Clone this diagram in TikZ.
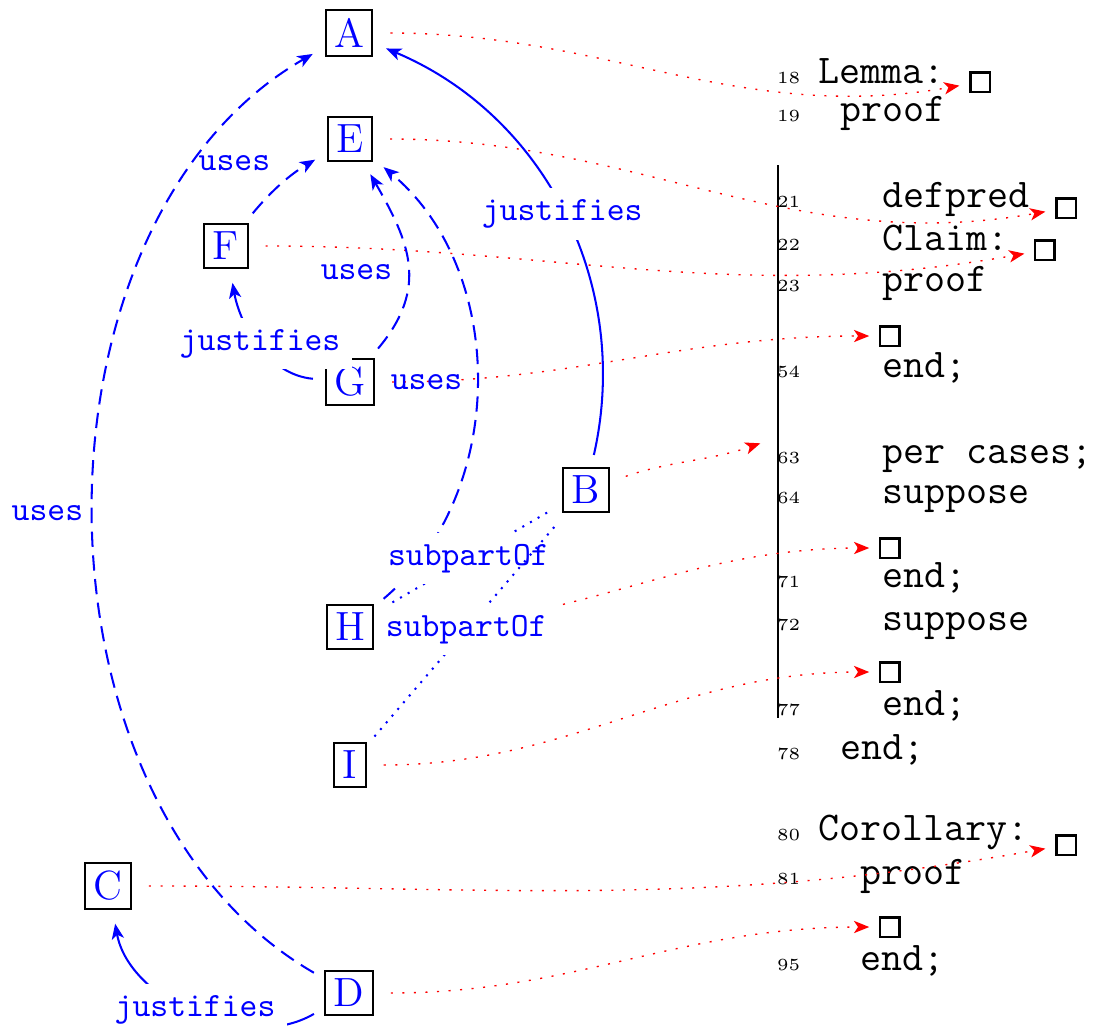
\documentclass[tikz,border=0pt]{standalone}
\usetikzlibrary{arrows.meta}
\tikzstyle{thm}=[draw, semithick, rectangle, text=blue, font=\large, inner sep=2.5pt, minimum height=13.2pt]
\tikzstyle{rel}=[draw=blue, semithick, shorten >=4pt, shorten <=3.5pt]
\tikzstyle{weight}=[text=blue, font=\ttfamily]

\begin{document}
\begin{tikzpicture}[x=1.0337cm, y=1.0337cm]
    \tikzstyle{uses}=[rel, -{Stealth[length=4.5pt,width=3.6pt,inset=1.2pt]}, dash pattern=on 4.5pt off 2.5pt]
    \tikzstyle{justifies}=[rel, -{Stealth[length=4.5pt,width=3.6pt,inset=1.2pt]}]
    \tikzstyle{subpart}=[rel, dotted]
    \tikzstyle{loc}=[draw=red, dash pattern=on 0.6pt off 2.8pt, shorten <=5pt, shorten >=3pt,
        -{Stealth[length=4.5pt,width=3.6pt,inset=1.2pt]}]
    \tikzstyle{lnum}=[font=\tiny, anchor=base east, inner sep=0pt]
    \tikzstyle{code}=[font=\large\ttfamily, anchor=base west, inner sep=0pt]
    \tikzstyle{qed}=[draw, semithick, minimum size=5.6pt, inner sep=0pt]

  \useasboundingbox (0,0) rectangle (10.95,-10.32);

  \foreach \name/\x/\y in {A/3.49/-0.33, E/3.50/-1.39, F/2.26/-2.46, G/3.50/-3.82,
                           B/5.86/-4.90, H/3.50/-6.27, I/3.50/-7.65, C/1.08/-8.86,
                           D/3.49/-9.93}
        \node[thm] (\name) at (\x,\y) {\name};

  % the listing
  \draw[semithick] (7.78,-1.65) -- (7.78,-7.18);
  \foreach \l/\txt/\x/\y in {18/Lemma:/8.18/-0.83, 19/proof/8.40/-1.21,
                             21/defpred/8.82/-2.07, 22/Claim:/8.82/-2.50,
                             23/proof/8.82/-2.91, 54/end;/8.82/-3.77,
                             63/per cases;/8.82/-4.63, 64/suppose/8.82/-5.03,
                             71/end;/8.82/-5.87, 72/suppose/8.82/-6.30,
                             77/end;/8.82/-7.15, 78/end;/8.40/-7.59,
                             80/Corollary:/8.18/-8.40, 81/proof/8.60/-8.84,
                             95/end;/8.60/-9.70}
      {
        \node[lnum] (n\l) at (8.01,\y) {\l};
        \node[code] (c\l) at (\x,\y) {\txt};
      }
  \foreach \name/\x/\y in {bxA/9.80/-0.82, bxE/10.66/-2.08, bxF/10.45/-2.50,
                           bxG/8.90/-3.36, bxH/8.90/-5.48, bxI/8.90/-6.72,
                           bxC/10.66/-8.45, bxD/8.90/-9.27}
        \node[qed] (\name) at (\x,\y) {};
  \coordinate (cases) at (7.70,-4.40);

  \foreach \a/\b/\o/\i in {A/bxA/0/190, E/bxE/0/190, F/bxF/0/190, G/bxG/0/180,
                           B/cases/19/199, H/bxH/0/180, I/bxI/0/180, C/bxC/0/190,
                           D/bxD/0/180}
          \path[loc] (\a) to[out=\o, in=\i] (\b);

  \path[uses] (D) to[bend left=60, looseness=0.97] node[weight, auto] {uses} (A);
  \path[justifies] (B) to[bend right=40] node[weight, fill=white] {justifies} (A);
  \path[justifies] (D) to[bend left=55] node[weight, fill=white] {justifies} (C);
  \path[uses] (F) to[bend left=10] node[weight, auto] {uses} (E);
  \path[uses] (G) to[out=50, in=-60, looseness=1.2] node[weight, auto, pos=.56] {uses} (E);
  \path[uses] (H) to[bend right=50] node[weight, auto] {uses} (E);
  \path[justifies] (G) to[out=175, in=-80] node[weight, fill=white] {justifies} (F);
  \path[subpart] (H) -- node[weight, fill=white] {subpartOf} (B);
  \path[subpart] (I) -- node[weight, fill=white] {subpartOf} (B);

\end{tikzpicture}
\end{document}
